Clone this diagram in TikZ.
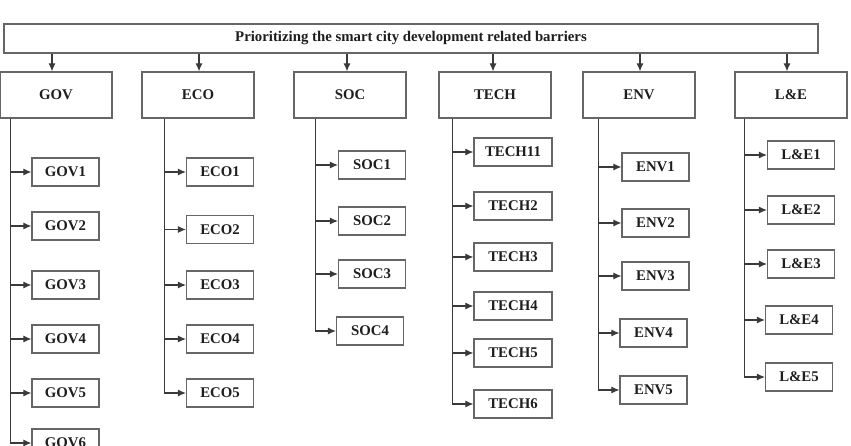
\documentclass[tikz,border=0pt]{standalone}
\usepackage{fontspec}
\setmainfont{Liberation Serif}
\usetikzlibrary{arrows.meta}
\definecolor{boxc}{HTML}{666666}
\definecolor{linec}{HTML}{3A3A3A}
\definecolor{txtc}{HTML}{1E1E1E}
\begin{document}
\begin{tikzpicture}[x=1pt,y=-1pt,
  every node/.style={font=\fontsize{14.8}{17}\selectfont\bfseries, text=txtc},
  cat/.style={draw=boxc, line width=1.2pt, minimum width=112pt, minimum height=46pt, inner sep=0pt},
  sub/.style={draw=boxc, line width=1.2pt, minimum width=67pt, minimum height=28pt, inner sep=0pt},
  subw/.style={sub, minimum width=78pt},
  arr/.style={draw=linec, line width=1.1pt, -{Latex[length=8pt,width=7pt]}}]
\clip (0,0) rectangle (851,446);
\fill[white] (0,0) rectangle (851,446);
% top
\node[draw=boxc, line width=1.2pt, minimum width=814pt, minimum height=29pt, inner sep=0pt] (top) at (411,38.5) {Prioritizing the smart city development related barriers};
% categories
\node[cat] (GOV) at (56,95) {GOV};
\node[cat] (ECO) at (198,95) {ECO};
\node[cat] (SOC) at (350,95) {SOC};
\node[cat] (TECH) at (495,95) {TECH};
\node[cat] (ENV) at (639,95) {ENV};
\node[cat] (LE) at (791,95) {L\&E};
\draw[arr] (top.south -| 52,0) -- (GOV.north -| 52,0);
\draw[arr] (top.south -| 199,0) -- (ECO.north -| 199,0);
\draw[arr] (top.south -| 347,0) -- (SOC.north -| 347,0);
\draw[arr] (top.south -| 493,0) -- (TECH.north -| 493,0);
\draw[arr] (top.south -| 640,0) -- (ENV.north -| 640,0);
\draw[arr] (top.south -| 787,0) -- (LE.north -| 787,0);
% GOV
\node[sub] (GOV1) at (65.5,172) {GOV1};
\node[sub] (GOV2) at (65.5,226) {GOV2};
\node[sub] (GOV3) at (65.5,285) {GOV3};
\node[sub] (GOV4) at (65.5,339) {GOV4};
\node[sub] (GOV5) at (65.5,393) {GOV5};
\node[sub] (GOV6) at (65.5,443) {GOV6};
\foreach \i in {1,...,6}{\draw[arr] ([xshift=11pt]GOV.south west) |- (GOV\i.west);}
% ECO
\node[sub] (ECO1) at (220,172) {ECO1};
\node[sub] (ECO2) at (220,229.5) {ECO2};
\node[sub] (ECO3) at (220,285) {ECO3};
\node[sub] (ECO4) at (220,339) {ECO4};
\node[sub] (ECO5) at (220,393) {ECO5};
\foreach \i in {1,...,5}{\draw[arr] ([xshift=23pt]ECO.south west) |- (ECO\i.west);}
% SOC
\node[sub] (SOC1) at (372,165) {SOC1};
\node[sub] (SOC2) at (372,221) {SOC2};
\node[sub] (SOC3) at (372,274) {SOC3};
\node[sub] (SOC4) at (370,331) {SOC4};
\foreach \i in {1,...,4}{\draw[arr] ([xshift=22pt]SOC.south west) |- (SOC\i.west);}
% TECH
\node[subw] (TECH1) at (513,152) {TECH11};
\node[subw] (TECH2) at (513,206) {TECH2};
\node[subw] (TECH3) at (513,257) {TECH3};
\node[subw] (TECH4) at (513,306) {TECH4};
\node[subw] (TECH5) at (513,353) {TECH5};
\node[subw] (TECH6) at (513,404) {TECH6};
\foreach \i in {1,...,6}{\draw[arr] ([xshift=14pt]TECH.south west) |- (TECH\i.west);}
% ENV
\node[sub] (ENV1) at (655.5,167) {ENV1};
\node[sub] (ENV2) at (655.5,223) {ENV2};
\node[sub] (ENV3) at (655.5,276) {ENV3};
\node[sub] (ENV4) at (653.5,333) {ENV4};
\node[sub] (ENV5) at (653.5,390) {ENV5};
\foreach \i in {1,...,5}{\draw[arr] ([xshift=16pt]ENV.south west) |- (ENV\i.west);}
% L&E
\node[sub] (LE1) at (801,155) {L\&E1};
\node[sub] (LE2) at (801,210) {L\&E2};
\node[sub] (LE3) at (801,264) {L\&E3};
\node[sub] (LE4) at (799,320) {L\&E4};
\node[sub] (LE5) at (799,377) {L\&E5};
\foreach \i in {1,...,5}{\draw[arr] ([xshift=10pt]LE.south west) |- (LE\i.west);}
\end{tikzpicture}
\end{document}
